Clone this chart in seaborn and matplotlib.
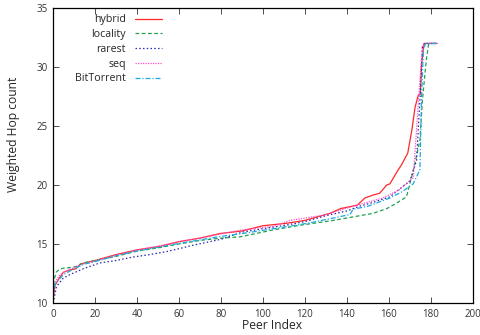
import numpy as np
import pandas as pd
import seaborn as sns
import matplotlib.pyplot as plt

# values (peer index, weighted hop count)
hybrid_x = [0, 1, 3, 5, 8, 11, 13, 20, 30, 40, 51, 60, 70, 80, 90, 100, 111, 120,
            132, 137, 141, 145, 148.6, 152.5, 155.6, 159, 160.5, 163, 164.5, 166,
            169, 171, 172.5, 174, 175, 175.6, 176.8, 183]
hybrid_y = [10.2, 11.5, 12.1, 12.6, 12.8, 12.9, 13.3, 13.6, 14.1, 14.5, 14.8, 15.2,
            15.5, 15.9, 16.1, 16.55, 16.75, 17.0, 17.6, 18.0, 18.15, 18.3, 18.9,
            19.15, 19.3, 20.0, 20.1, 20.85, 21.3, 21.7, 22.7, 24.7, 26.6, 27.6,
            27.7, 30.3, 32.0, 32.0]

locality_x = [0, 0.5, 1.5, 3, 5, 8, 11.3, 14.4, 20, 30, 40, 51, 60, 70, 80, 89,
              105, 118, 124, 133.5, 143, 152.5, 159, 163.6, 168.4, 170, 172, 174.8,
              176, 177.9, 179, 183]
locality_y = [10.5, 11.9, 12.6, 12.85, 12.95, 13.0, 13.1, 13.4, 13.6, 13.95, 14.4,
              14.7, 15.0, 15.3, 15.5, 15.6, 16.2, 16.6, 16.75, 17.0, 17.3, 17.6,
              18.0, 18.45, 19.0, 20.1, 21.5, 23.8, 27.2, 30.7, 32.0, 32.0]

rarest_x = [0, 0.5, 1.7, 4.9, 8, 14.4, 22.4, 30, 38.2, 46, 54, 60, 66.8, 80, 90,
            100, 111, 120, 130, 140, 146, 152, 160.5, 166.8, 170, 173.2, 174.8,
            176, 177, 183]
rarest_y = [10.0, 10.3, 11.4, 12.1, 12.4, 12.9, 13.4, 13.6, 13.9, 14.1, 14.35,
            14.6, 14.9, 15.4, 16.0, 16.3, 16.6, 16.9, 17.4, 17.8, 18.2, 18.5, 19.0,
            19.9, 20.3, 22.1, 27.2, 31.7, 32.0, 32.0]

seq_x = [0, 1, 3, 5, 10, 15, 20, 30, 40, 51, 60, 70, 80, 90, 105, 113, 129, 145,
         157, 165, 170, 171.6, 173.2, 174.8, 176, 177, 183]
seq_y = [10.5, 11.8, 12.3, 12.6, 13.0, 13.35, 13.55, 14.05, 14.5, 14.85, 15.2,
         15.5, 15.85, 16.2, 16.5, 17.0, 17.45, 18.3, 18.9, 19.6, 20.4, 20.6, 24.7,
         28.9, 31.8, 32.0, 32.0]

bt_x = [0, 1, 3, 5, 10, 15, 20, 30, 40, 51, 60, 70, 80, 89, 105, 121, 133.5, 141.5,
        143, 150, 160.5, 166, 171.6, 174.8, 175.6, 176.5, 177.5, 183]
bt_y = [10.5, 11.6, 12.0, 12.4, 12.9, 13.3, 13.5, 14.0, 14.4, 14.75, 15.05, 15.35,
        15.65, 15.85, 16.3, 16.75, 17.2, 17.5, 17.95, 18.2, 18.9, 19.4, 20.1, 21.3,
        27.6, 31.5, 32.0, 32.0]

labels = ["hybrid", "locality", "rarest", "seq", "BitTorrent"]
colors = ["#ff2828", "#20a050", "#2828b0", "#ff50c8", "#20a8e0"]
dashes = [(None, None), (3, 2), (1.2, 1.8), (1, 1), (4, 1.5, 1, 1.5)]
series = [(hybrid_x, hybrid_y), (locality_x, locality_y), (rarest_x, rarest_y),
          (seq_x, seq_y), (bt_x, bt_y)]

sns.set_style("ticks")
plt.rcParams["font.family"] = ["Open Sans", "DejaVu Sans"]

fig = plt.figure(figsize=(4.81, 3.35), dpi=100)
ax = fig.add_axes([0.110, 0.0955, 0.873, 0.8805])

for (xs, ys), lab, col, dsh in zip(series, labels, colors, dashes):
    df = pd.DataFrame({"x": xs, "y": ys})
    sns.lineplot(data=df, x="x", y="y", sort=False, estimator=None,
                 color=col, linewidth=0.9, label=lab, ax=ax)
    if dsh[0] is not None:
        ax.lines[-1].set_dashes(dsh)

ax.set_xlim(0, 200)
ax.set_ylim(10, 35)
ax.set_xticks(np.arange(0, 201, 20))
ax.set_yticks(np.arange(10, 36, 5))
ax.tick_params(direction="in", top=True, right=True, length=4, width=0.6,
               labelsize=7, pad=4, colors="#333333")
for s in ax.spines.values():
    s.set_linewidth(0.9)
    s.set_color("black")

ax.set_xlabel("Peer Index", fontsize=8.7)
ax.set_ylabel("Weighted Hop count", fontsize=8.7)
ax.xaxis.set_label_coords(0.523, -0.055)
ax.yaxis.set_label_coords(-0.079, 0.573)

leg = ax.legend(loc="upper right", bbox_to_anchor=(0.275, 1.0), frameon=False,
                markerfirst=False, fontsize=7.7, handlelength=2.5,
                handletextpad=0.9, labelspacing=0.35, borderaxespad=0.2)
for col in leg._legend_handle_box.get_children():
    col.align = "right"

fig.savefig("out.png", dpi=100)
